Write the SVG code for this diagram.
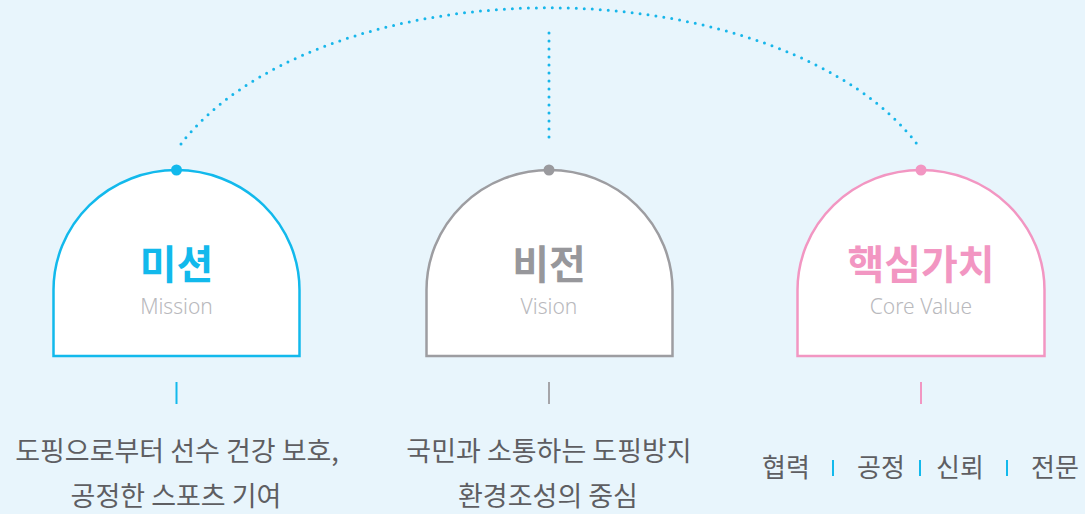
<svg xmlns="http://www.w3.org/2000/svg" width="1085" height="514" viewBox="0 0 1085 514">
<style>
.bg{fill:#e8f5fc}
.arch{fill:#ffffff;stroke-width:2.5}
.t{font-family:"Noto Sans CJK KR","Noto Sans",sans-serif;font-weight:700;font-size:40px;text-anchor:middle}
.en{font-family:"Noto Sans","Liberation Sans",sans-serif;font-weight:300;font-size:21px;fill:#b9b9bd;text-anchor:middle}
.body{font-family:"Noto Sans CJK KR","Noto Sans",sans-serif;font-size:27px;fill:#5e5e62;text-anchor:middle}
.cv{font-family:"Noto Sans CJK KR","Noto Sans",sans-serif;font-size:26px;fill:#5e5e62;text-anchor:middle}
.dot{fill:none;stroke:#17b6ea;stroke-width:3;stroke-linecap:round;stroke-dasharray:0 8}
</style>
<rect class="bg" x="0" y="0" width="1085" height="514"/>
<g id="connectors">
<path class="dot" d="M181,144 A400,224 0 0 1 917,144"/>
<line class="dot" x1="549" y1="33" x2="549" y2="144"/>
</g>
<g id="mission">
<path class="arch" stroke="#12b9ec" d="M53.5,356 L53.5,290 A123,120 0 0 1 299.5,290 L299.5,356 Z"/>
<circle cx="176.5" cy="170" r="5.5" fill="#12b9ec"/>
<text class="t" x="176.5" y="279" fill="#12b9ec">미션</text>
<text class="en" x="176.5" y="314">Mission</text>
<line x1="176.5" y1="382" x2="176.5" y2="404" stroke="#12b9ec" stroke-width="2"/>
<text class="body" x="177" y="461">도핑으로부터 선수 건강 보호,</text>
<text class="body" x="176" y="506">공정한 스포츠 기여</text>
</g>
<g id="vision">
<path class="arch" stroke="#9d9da1" d="M426.5,356 L426.5,290 A123,120 0 0 1 672.5,290 L672.5,356 Z"/>
<circle cx="549" cy="170" r="5.5" fill="#9a9a9e"/>
<text class="t" x="549" y="279" fill="#97979b">비전</text>
<text class="en" x="549" y="314">Vision</text>
<line x1="549" y1="382" x2="549" y2="404" stroke="#a5a5a9" stroke-width="2"/>
<text class="body" x="549" y="461">국민과 소통하는 도핑방지</text>
<text class="body" x="548" y="506">환경조성의 중심</text>
</g>
<g id="corevalue">
<path class="arch" stroke="#f296c2" d="M797.5,356 L797.5,290 A123.5,120 0 0 1 1044.5,290 L1044.5,356 Z"/>
<circle cx="921" cy="170" r="5.5" fill="#f296c2"/>
<text class="t" x="921" y="279" fill="#f296c2">핵심가치</text>
<text class="en" x="921" y="314">Core Value</text>
<line x1="921" y1="382" x2="921" y2="404" stroke="#f296c2" stroke-width="2"/>
<text class="cv" x="786" y="477">협력</text>
<line x1="833" y1="460" x2="833" y2="476" stroke="#12b9ec" stroke-width="2"/>
<text class="cv" x="881" y="477">공정</text>
<line x1="920" y1="460" x2="920" y2="476" stroke="#12b9ec" stroke-width="2"/>
<text class="cv" x="960" y="477">신뢰</text>
<line x1="1007" y1="460" x2="1007" y2="476" stroke="#12b9ec" stroke-width="2"/>
<text class="cv" x="1055" y="477">전문</text>
</g>
</svg>
